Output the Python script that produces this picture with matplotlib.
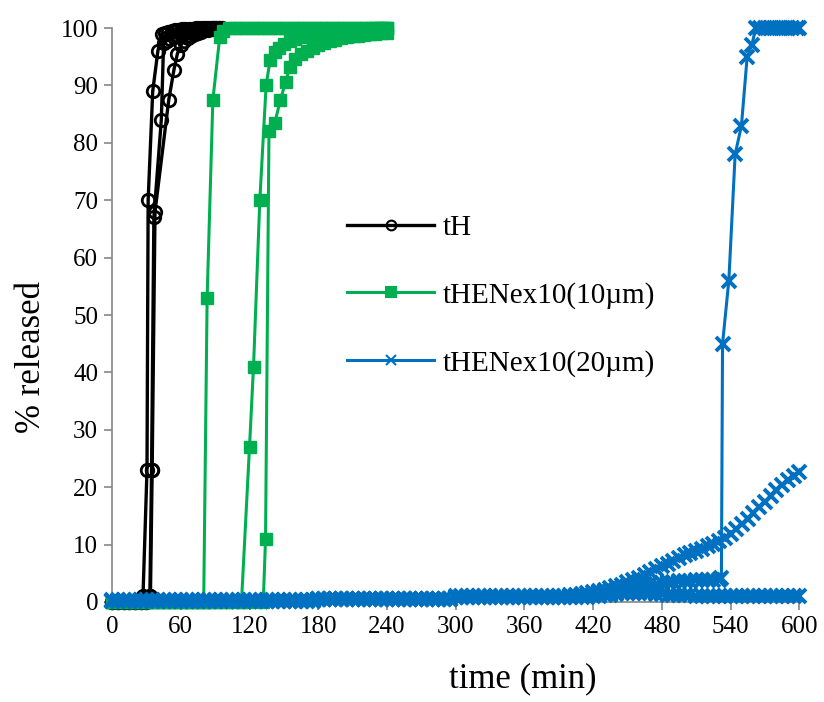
import matplotlib
matplotlib.use('Agg')
import matplotlib.pyplot as plt

# --- data: time (min) vs % released ---

# tH, three replicates
tH_t1 = [0, 5, 10, 15, 20, 25, 27, 30.5, 31.5, 35.5, 40, 43.5, 46, 49, 52, 55,
         58, 61, 64, 67, 70, 73, 76, 79, 82, 85, 88, 91]
tH_v1 = [0, 0, 0, 0, 0, 0, 1, 23, 70, 89, 96, 99, 99.2, 99.4, 99.5, 99.6,
         99.7, 99.8, 99.8, 99.9, 99.9, 100, 100, 100, 100, 100, 100, 100]
tH_t2 = [0, 5, 10, 15, 20, 25, 30, 33, 34.5, 36.5, 43, 45, 48, 51, 54, 57, 60,
         63, 66, 69, 72, 75, 78, 81, 84, 87, 90, 93]
tH_v2 = [0, 0, 0, 0, 0, 0, 0, 1, 23, 67, 84, 97.4, 97.8, 98.1, 98.4, 98.7,
         98.9, 99.1, 99.3, 99.4, 99.5, 99.6, 99.7, 99.8, 99.9, 100, 100, 100]
tH_t3 = [0, 5, 10, 15, 20, 25, 30, 33.5, 35, 37.5, 49.5, 54, 57, 60, 63, 66,
         69, 72, 75, 78, 81, 84, 87, 90, 93, 96]
tH_v3 = [0, 0, 0, 0, 0, 0, 0, 1, 23, 68, 87.5, 92.7, 95.5, 97, 97.8, 98.3,
         98.7, 99, 99.2, 99.4, 99.6, 99.7, 99.8, 99.9, 100, 100]

# tHENex10 (10 um), three replicates
g_t1 = [0, 10, 20, 30, 40, 50, 60, 70, 80, 83, 88, 94, 97, 102, 107, 112, 117,
        122, 127, 132, 137, 142, 147, 152, 157, 162, 167, 172, 177, 182, 187,
        192, 197, 202, 207, 212, 217, 222, 227, 232, 237, 240]
g_v1 = [0, 0, 0, 0, 0, 0, 0, 0, 0, 53, 87.5, 98.4, 99.5, 100, 100, 100, 100,
        100, 100, 100, 100, 100, 100, 100, 100, 100, 100, 100, 100, 100, 100,
        100, 100, 100, 100, 100, 100, 100, 100, 100, 100, 100]
g_t2 = [0, 10, 20, 30, 40, 50, 60, 70, 80, 90, 100, 113, 120, 123.5, 129,
        134.5, 138, 142, 146, 150, 155, 160, 165, 170, 175, 180, 185, 190, 195,
        200, 205, 210, 215, 220, 225, 230, 235, 240]
g_v2 = [0, 0, 0, 0, 0, 0, 0, 0, 0, 0, 0, 0, 27, 41, 70, 90, 94.5, 95.8, 96.6,
        97.2, 97.7, 98.1, 98.4, 98.7, 98.9, 99.1, 99.3, 99.4, 99.5, 99.6, 99.7,
        99.8, 99.8, 99.9, 99.9, 100, 100, 100]
g_t3 = [0, 10, 20, 30, 40, 50, 60, 70, 80, 90, 100, 110, 120, 132, 134, 137,
        142, 147, 151.5, 155.5, 160, 165, 170, 175, 180, 185, 190, 195, 200,
        205, 210, 215, 220, 225, 230, 235, 240]
g_v3 = [0, 0, 0, 0, 0, 0, 0, 0, 0, 0, 0, 0, 0, 0, 11, 82, 83.4, 87.5, 90.6,
        93.3, 94.6, 95.4, 96, 96.5, 97, 97.4, 97.7, 98, 98.2, 98.4, 98.6, 98.7,
        98.8, 98.9, 99, 99.1, 99.2]

# tHENex10 (20 um), three replicates, sampled every 5 min
b_t = [0, 5, 10, 15, 20, 25, 30, 35, 40, 45, 50, 55, 60, 65, 70, 75, 80, 85,
       90, 95, 100, 105, 110, 115, 120, 125, 130, 135, 140, 145, 150, 155, 160,
       165, 170, 175, 180, 185, 190, 195, 200, 205, 210, 215, 220, 225, 230,
       235, 240, 245, 250, 255, 260, 265, 270, 275, 280, 285, 290, 295, 300,
       305, 310, 315, 320, 325, 330, 335, 340, 345, 350, 355, 360, 365, 370,
       375, 380, 385, 390, 395, 400, 405, 410, 415, 420, 425, 430, 435, 440,
       445, 450, 455, 460, 465, 470, 475, 480, 485, 490, 495, 500, 505, 510,
       515, 520, 525, 530, 535, 540, 545, 550, 555, 560, 565, 570, 575, 580,
       585, 590, 595, 600]
b_v1 = ([0.2] * 36 + [0.5] * 24 + [0.8] * 24 +
        [1.0, 1.1, 1.2, 1.3, 1.4, 1.5, 1.5, 1.5, 1.5, 1.5, 1.5, 1.4, 1.4, 1.3,
         1.3, 1.2, 1.2, 1.2, 1.1, 1.1, 1.1, 1.1, 1.0, 1.0, 1.0, 1.0, 1.0, 1.0,
         1.0, 1.0, 1.0, 1.0, 1.0, 1.0, 1.0, 1.0, 1.0])
b_v2 = ([0.2] * 36 + [0.6] * 24 + [0.9] * 20 +
        [1.2, 1.3, 1.4, 1.5, 1.7, 1.9, 2.1, 2.4, 2.7, 3.0, 3.4, 3.8, 4.2, 4.7,
         5.2, 5.7, 6.2, 6.7, 7.2, 7.7, 8.1, 8.5, 8.9, 9.3, 9.7, 10.1, 10.6,
         11.2, 11.9, 12.7, 13.6, 14.5, 15.5, 16.5, 17.5, 18.5, 19.5, 20.4,
         21.2, 22.0, 22.7])
b_t3 = b_t[:107] + [532, 533, 538.5, 544, 549.5, 554.5, 558.5, 562, 566,
                    570, 574, 578, 582, 586, 590, 594, 598, 600]
b_v3 = ([0.3] * 36 + [0.6] * 24 + [1.0] * 24 +
        [1.3, 1.5, 1.7, 1.9, 2.1, 2.3, 2.5, 2.7, 2.9, 3.0, 3.1, 3.2, 3.3, 3.4,
         3.5, 3.6, 3.7, 3.7, 3.8, 3.8, 3.8, 3.9, 3.9] +
        [4.2, 45, 56, 78, 83, 95, 97, 100, 100, 100, 100, 100, 100, 100, 100,
         100, 100, 100])

labels = ['tH', 'tHENex10(10\u00b5m)', 'tHENex10(20\u00b5m)']
xticks = [0, 60, 120, 180, 240, 300, 360, 420, 480, 540, 600]
yticks = [0, 10, 20, 30, 40, 50, 60, 70, 80, 90, 100]

plt.rcParams['font.family'] = ['Liberation Serif', 'DejaVu Serif']

fig = plt.figure(figsize=(8.24, 7.02), dpi=100)
ax = fig.add_axes([0.136, 0.1425, 0.834, 0.8175])

black = '#000000'
green = '#00B050'
blue = '#0070C0'

for i, (t, v) in enumerate([(tH_t1, tH_v1), (tH_t2, tH_v2), (tH_t3, tH_v3)]):
    ax.plot(t, v, color=black, lw=2.4, marker='o', ms=9, mfc='none', mew=2.0,
            label=labels[0] if i == 0 else '_nolegend_', clip_on=False, zorder=2)

for i, (t, v) in enumerate([(g_t1, g_v1), (g_t2, g_v2), (g_t3, g_v3)]):
    ax.plot(t, v, color=green, lw=2.2, marker='s', ms=8.5, mec=green,
            label=labels[1] if i == 0 else '_nolegend_', clip_on=False, zorder=3)

for i, (t, v) in enumerate([(b_t, b_v1), (b_t, b_v2), (b_t3, b_v3)]):
    ax.plot(t, v, color=blue, lw=2.2, marker='x', ms=10.5, mew=2.8,
            label=labels[2] if i == 0 else '_nolegend_', clip_on=False, zorder=4)

ax.set_xlim(0, 600)
ax.set_ylim(0, 100)
ax.set_xticks(xticks)
ax.set_yticks(yticks)

for s in ['top', 'right']:
    ax.spines[s].set_visible(False)
for s in ['left', 'bottom']:
    ax.spines[s].set_color('#868686')
    ax.spines[s].set_linewidth(1.2)
ax.tick_params(axis='both', direction='out', length=6, width=1.2,
               color='#868686', labelsize=18, pad=4)

ax.set_xlabel('time (min)', fontsize=25)
ax.xaxis.set_label_coords(0.597, -0.105)
ax.set_ylabel('% released', fontsize=25)
ax.yaxis.set_label_coords(-0.093, 0.427)

leg = ax.legend(loc='upper left', bbox_to_anchor=(0.421, 0.694),
                bbox_transform=fig.transFigure, frameon=False, fontsize=21,
                numpoints=1, handlelength=3.0, handletextpad=0.3,
                labelspacing=1.4, borderpad=0, borderaxespad=0)
for h in leg.legend_handles:
    h.set_markersize(7)
    h.set_markeredgewidth(1.5)

fig.savefig('out.png', dpi=100)
plt.close(fig)
